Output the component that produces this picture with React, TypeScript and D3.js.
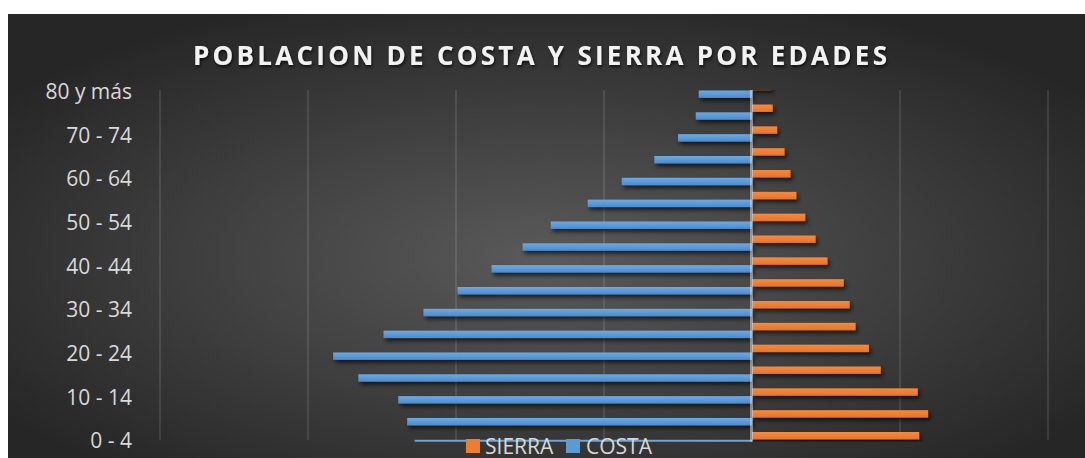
import React from "react";
import * as d3 from "d3";

// Age groups, bottom (0-4) to top (80 y más)
const ageGroups: string[] = [
  "0 - 4", "5 - 9", "10 - 14", "15 - 19", "20 - 24", "25 - 29", "30 - 34",
  "35 - 39", "40 - 44", "45 - 49", "50 - 54", "55 - 59", "60 - 64",
  "65 - 69", "70 - 74", "75 - 79", "80 y más",
];

// COSTA (plotted to the left) and SIERRA (plotted to the right)
const costaValues: number[] = [
  228, 233, 239, 266, 283, 249, 222, 199, 176, 155, 136, 111, 88, 66, 50, 38, 36,
];
const sierraValues: number[] = [
  113, 119, 112, 87, 79, 70, 66, 62, 51, 43, 36, 30, 26, 22, 17, 14, 13,
];

const gridTicks: number[] = [-400, -300, -200, -100, 0, 100, 200];
const seriesNames: string[] = ["SIERRA", "COSTA"];
const titleText = "POBLACION DE COSTA Y SIERRA POR EDADES";

const W = 1085;
const H = 458;
const plotTop = 90;
const plotBottom = 441.8;

export default function App() {
  const x = d3.scaleLinear().domain([-400, 200]).range([160, 1048]);
  const y = d3.scalePoint<string>().domain(ageGroups).range([439.6, 90.3]);
  const barH = 7.4;
  const font = "'Open Sans', 'Noto Sans', sans-serif";

  return (
    <svg
      width={W}
      height={H}
      style={{ position: "absolute", left: 0, top: 0, display: "block" }}
    >
      <defs>
        <radialGradient id="bg" cx="50%" cy="55%" r="62%">
          <stop offset="0%" stopColor="#5a5a5a" />
          <stop offset="100%" stopColor="#262626" />
        </radialGradient>
        <linearGradient id="blueG" x1="0" y1="0" x2="0" y2="1">
          <stop offset="0%" stopColor="#6eaae3" />
          <stop offset="100%" stopColor="#4b8bcd" />
        </linearGradient>
        <linearGradient id="orangeG" x1="0" y1="0" x2="0" y2="1">
          <stop offset="0%" stopColor="#f78a3d" />
          <stop offset="100%" stopColor="#e5742a" />
        </linearGradient>
        <filter id="shadow" x="-10%" y="-100%" width="130%" height="400%">
          <feDropShadow dx="2" dy="3" stdDeviation="2.2" floodColor="#000" floodOpacity="0.65" />
        </filter>
        <filter id="tshadow" x="-5%" y="-50%" width="110%" height="200%">
          <feDropShadow dx="1" dy="2" stdDeviation="1.5" floodColor="#000" floodOpacity="0.7" />
        </filter>
        <clipPath id="plotClip">
          <rect x={140} y={plotTop} width={930} height={plotBottom - plotTop} />
        </clipPath>
      </defs>

      <rect x={8} y={14} width={W - 8} height={H - 14} fill="url(#bg)" />

      {/* gridlines */}
      {gridTicks.filter((t) => t !== 0).map((t) => (
        <line
          key={t}
          x1={x(t)}
          x2={x(t)}
          y1={plotTop}
          y2={440}
          stroke="rgba(255,255,255,0.13)"
          strokeWidth={1.6}
        />
      ))}

      {/* title */}
      <text
        x={540}
        y={65}
        textAnchor="middle"
        fontFamily={font}
        fontWeight={700}
        fontSize={26}
        fill="#f2f2f2"
        textLength={694}
        lengthAdjust="spacing"
        filter="url(#tshadow)"
      >
        {titleText}
      </text>

      {/* bars */}
      <g clipPath="url(#plotClip)">
        <g filter="url(#shadow)">
          {ageGroups.map((g, i) => (
            <rect
              key={"c" + g}
              x={x(-costaValues[i])}
              y={(y(g) as number) + 0.2}
              width={x(0) - x(-costaValues[i])}
              height={barH}
              fill="url(#blueG)"
            />
          ))}
          {ageGroups.map((g, i) => (
            <rect
              key={"s" + g}
              x={x(0)}
              y={(y(g) as number) - 7.6}
              width={x(sierraValues[i]) - x(0)}
              height={barH}
              fill="url(#orangeG)"
            />
          ))}
        </g>
      </g>

      {/* vertical axis line */}
      <line
        x1={x(0) - 0.5}
        x2={x(0) - 0.5}
        y1={plotTop}
        y2={plotBottom}
        stroke="rgba(220,220,220,0.55)"
        strokeWidth={3}
      />

      {/* category labels */}
      {ageGroups.map((g, i) =>
        i % 2 === 0 ? (
          <text
            key={"l" + g}
            x={132}
            y={(y(g) as number) + 1.4}
            dy="0.35em"
            textAnchor="end"
            fontFamily={font}
            fontSize={21}
            fill="#d9d9d9"
          >
            {g}
          </text>
        ) : null
      )}

      {/* legend */}
      <g fontFamily={font} fontSize={21} fill="#d9d9d9">
        <rect x={466} y={439} width={14} height={14} fill="#ed7d31" />
        <text x={485} y={453.5}>{seriesNames[0]}</text>
        <rect x={566} y={439} width={14} height={14} fill="#5b9bd5" />
        <text x={586} y={453.5}>{seriesNames[1]}</text>
      </g>
    </svg>
  );
}
